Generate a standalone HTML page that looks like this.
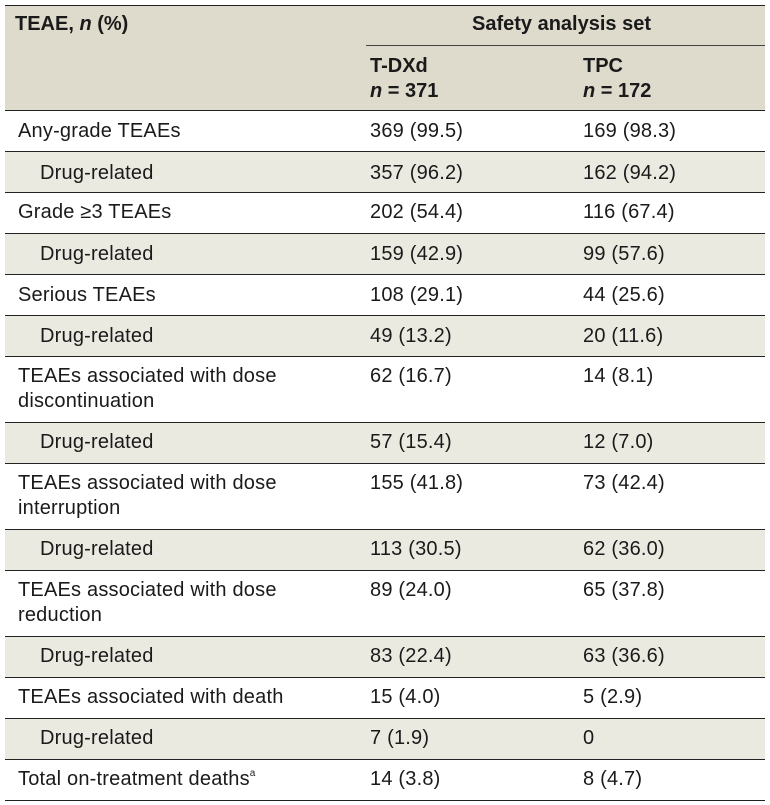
<!DOCTYPE html>
<html><head><meta charset="utf-8"><style>
body{margin:0;background:#fff;width:770px;height:805px;position:relative;font-family:"Liberation Sans",sans-serif;color:#1a1a1a;overflow:hidden}
.r{position:absolute;left:5px;width:760px;border-bottom:1.3px solid #222;box-sizing:border-box}
.t{position:absolute;font-size:20px;line-height:25px;letter-spacing:0.2px;white-space:nowrap}
.b{font-weight:bold;letter-spacing:0}
sup{font-size:10px;line-height:0;vertical-align:9px}
</style></head><body>
<div class="r" style="top:5px;height:106px;background:#dedbcc;border-top:1.3px solid #222"></div>
<div style="position:absolute;left:366px;top:45px;width:399px;height:1px;background:#444"></div>
<div class="t b" style="left:15px;top:12px">TEAE, <i>n</i> (%)</div>
<div class="t b" style="left:472px;top:12px">Safety analysis set</div>
<div class="t b" style="left:370px;top:54px">T-DXd<br><i>n</i> = 371</div>
<div class="t b" style="left:583px;top:54px">TPC<br><i>n</i> = 172</div>

<div class="r" style="top:111px;height:41px"></div>
<div class="t" style="left:18px;top:119px">Any-grade TEAEs</div><div class="t" style="left:370px;top:119px">369 (99.5)</div><div class="t" style="left:583px;top:119px">169 (98.3)</div>

<div class="r" style="top:152px;height:41px;background:#ebeae1"></div>
<div class="t" style="left:40px;top:161px">Drug-related</div><div class="t" style="left:370px;top:161px">357 (96.2)</div><div class="t" style="left:583px;top:161px">162 (94.2)</div>

<div class="r" style="top:193px;height:41px"></div>
<div class="t" style="left:18px;top:200px">Grade ≥3 TEAEs</div><div class="t" style="left:370px;top:200px">202 (54.4)</div><div class="t" style="left:583px;top:200px">116 (67.4)</div>

<div class="r" style="top:234px;height:41px;background:#ebeae1"></div>
<div class="t" style="left:40px;top:242px">Drug-related</div><div class="t" style="left:370px;top:242px">159 (42.9)</div><div class="t" style="left:583px;top:242px">99 (57.6)</div>

<div class="r" style="top:275px;height:41px"></div>
<div class="t" style="left:18px;top:283px">Serious TEAEs</div><div class="t" style="left:370px;top:283px">108 (29.1)</div><div class="t" style="left:583px;top:283px">44 (25.6)</div>

<div class="r" style="top:316px;height:41px;background:#ebeae1"></div>
<div class="t" style="left:40px;top:324px">Drug-related</div><div class="t" style="left:370px;top:324px">49 (13.2)</div><div class="t" style="left:583px;top:324px">20 (11.6)</div>

<div class="r" style="top:357px;height:66px"></div>
<div class="t" style="left:18px;top:364px">TEAEs associated with dose<br>discontinuation</div><div class="t" style="left:370px;top:364px">62 (16.7)</div><div class="t" style="left:583px;top:364px">14 (8.1)</div>

<div class="r" style="top:423px;height:41px;background:#ebeae1"></div>
<div class="t" style="left:40px;top:430px">Drug-related</div><div class="t" style="left:370px;top:430px">57 (15.4)</div><div class="t" style="left:583px;top:430px">12 (7.0)</div>

<div class="r" style="top:464px;height:66px"></div>
<div class="t" style="left:18px;top:471px">TEAEs associated with dose<br>interruption</div><div class="t" style="left:370px;top:471px">155 (41.8)</div><div class="t" style="left:583px;top:471px">73 (42.4)</div>

<div class="r" style="top:530px;height:41px;background:#ebeae1"></div>
<div class="t" style="left:40px;top:537px">Drug-related</div><div class="t" style="left:370px;top:537px">113 (30.5)</div><div class="t" style="left:583px;top:537px">62 (36.0)</div>

<div class="r" style="top:571px;height:66px"></div>
<div class="t" style="left:18px;top:578px">TEAEs associated with dose<br>reduction</div><div class="t" style="left:370px;top:578px">89 (24.0)</div><div class="t" style="left:583px;top:578px">65 (37.8)</div>

<div class="r" style="top:637px;height:41px;background:#ebeae1"></div>
<div class="t" style="left:40px;top:644px">Drug-related</div><div class="t" style="left:370px;top:644px">83 (22.4)</div><div class="t" style="left:583px;top:644px">63 (36.6)</div>

<div class="r" style="top:678px;height:41px"></div>
<div class="t" style="left:18px;top:685px">TEAEs associated with death</div><div class="t" style="left:370px;top:685px">15 (4.0)</div><div class="t" style="left:583px;top:685px">5 (2.9)</div>

<div class="r" style="top:719px;height:41px;background:#ebeae1"></div>
<div class="t" style="left:40px;top:726px">Drug-related</div><div class="t" style="left:370px;top:726px">7 (1.9)</div><div class="t" style="left:583px;top:726px">0</div>

<div class="r" style="top:760px;height:41px"></div>
<div class="t" style="left:18px;top:767px">Total on-treatment deaths<sup>a</sup></div><div class="t" style="left:370px;top:767px">14 (3.8)</div><div class="t" style="left:583px;top:767px">8 (4.7)</div>
</body></html>
